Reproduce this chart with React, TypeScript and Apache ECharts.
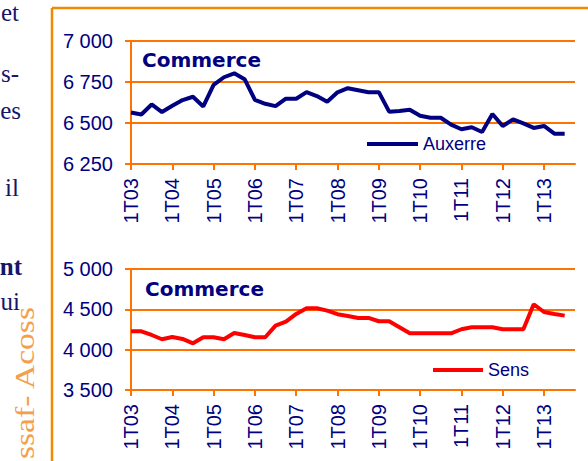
import React, { useEffect, useRef } from "react";
import * as echarts from "echarts";

const categories = [
  "1T03", "2T03", "3T03", "4T03", "1T04", "2T04", "3T04", "4T04",
  "1T05", "2T05", "3T05", "4T05", "1T06", "2T06", "3T06", "4T06",
  "1T07", "2T07", "3T07", "4T07", "1T08", "2T08", "3T08", "4T08",
  "1T09", "2T09", "3T09", "4T09", "1T10", "2T10", "3T10", "4T10",
  "1T11", "2T11", "3T11", "4T11", "1T12", "2T12", "3T12", "4T12",
  "1T13", "2T13", "3T13", "4T13",
];

const auxerre = [
  6564, 6552, 6613, 6567, 6605, 6640, 6660, 6601, 6733, 6779, 6803, 6767,
  6641, 6617, 6603, 6648, 6648, 6688, 6664, 6629, 6687, 6712, 6700, 6688,
  6688, 6569, 6573, 6581, 6544, 6532, 6532, 6490, 6462, 6474, 6445, 6555,
  6482, 6522, 6498, 6470, 6482, 6435, 6435, null,
];

const sens = [
  4228, 4228, 4182, 4129, 4157, 4133, 4079, 4154, 4154, 4129, 4207, 4182,
  4154, 4154, 4298, 4347, 4443, 4513, 4513, 4484, 4440, 4418, 4393, 4393,
  4352, 4352, 4278, 4203, 4203, 4203, 4203, 4203, 4253, 4278, 4278, 4278,
  4253, 4253, 4253, 4563, 4467, 4443, 4422, null,
];

const topAxis = { min: 6250, max: 7000, interval: 250 };
const bottomAxis = { min: 3500, max: 5000, interval: 500 };

const chartTitles = ["Commerce", "Commerce"];
const seriesNames = ["Auxerre", "Sens"];
const sideText = ["et", "s-", "es", "il", "nt", "ui"];
const sourceText = "ssaf- Acoss";

const NAVY = "#000080";
const RED = "#FF0000";
const ORANGE = "#FF7300";
const FRAME = "#F08A00";
const TEXT_NAVY = "#15156a";
const SOURCE_ORANGE = "#F4A04A";
const SANS = "Liberation Sans, Arial, sans-serif";
const SERIF = "Liberation Serif, Times New Roman, serif";

const fmt = (v: number) => String(v).replace(/\B(?=(\d{3})+(?!\d))/g, " ");

export default function App() {
  const ref = useRef<HTMLDivElement>(null);
  useEffect(() => {
    if (!ref.current) return;
    const chart = echarts.init(ref.current, undefined, { renderer: "svg" });
    const lineStyle = { color: ORANGE, width: 2 };
    const xAxis = [0, 1].map((i) => ({
      type: "category",
      gridIndex: i,
      data: categories,
      boundaryGap: false,
      axisLine: { show: true, lineStyle },
      axisTick: { show: true, interval: 3, length: 6, lineStyle },
      axisLabel: {
        interval: 3,
        rotate: 90,
        margin: 14,
        fontSize: 20,
        color: NAVY,
        fontFamily: SANS,
      },
      splitLine: { show: false },
    }));
    const yAxis = [topAxis, bottomAxis].map((a, i) => ({
      type: "value",
      gridIndex: i,
      min: a.min,
      max: a.max,
      interval: a.interval,
      axisLine: { show: true, lineStyle },
      axisTick: { show: true, length: 6, lineStyle },
      splitLine: { show: true, lineStyle },
      axisLabel: {
        margin: 18,
        fontSize: 20,
        color: NAVY,
        fontFamily: SANS,
        formatter: (v: number) => fmt(v),
      },
    }));
    const sideY = [12, 73, 110, 187, 266, 301];
    const sideX = [19, 19, 21, 19, 22, 20];
    const option = {
      animation: false,
      backgroundColor: "#ffffff",
      grid: [
        { left: 131, top: 41, width: 444, height: 123, outerBoundsMode: "none" },
        { left: 131, top: 269, width: 444, height: 121, outerBoundsMode: "none" },
      ],
      xAxis,
      yAxis,
      legend: [
        {
          data: [seriesNames[0]],
          left: 367,
          top: 135,
          padding: 0,
          icon: "rect",
          itemWidth: 51,
          itemHeight: 4,
          textStyle: { fontSize: 18, color: NAVY, fontFamily: SANS },
        },
        {
          data: [seriesNames[1]],
          left: 433,
          top: 361,
          padding: 0,
          icon: "rect",
          itemWidth: 50,
          itemHeight: 4,
          textStyle: { fontSize: 18, color: NAVY, fontFamily: SANS },
        },
      ],
      series: [
        {
          type: "line",
          name: seriesNames[0],
          xAxisIndex: 0,
          yAxisIndex: 0,
          data: auxerre,
          symbol: "none",
          lineStyle: { color: NAVY, width: 4 },
          itemStyle: { color: NAVY },
        },
        {
          type: "line",
          name: seriesNames[1],
          xAxisIndex: 1,
          yAxisIndex: 1,
          data: sens,
          symbol: "none",
          lineStyle: { color: RED, width: 4 },
          itemStyle: { color: RED },
        },
      ],
      graphic: [
        { type: "line", shape: { x1: 52, y1: 8, x2: 52, y2: 461 }, style: { stroke: FRAME, lineWidth: 2.5 } },
        { type: "line", shape: { x1: 52, y1: 8, x2: 588, y2: 8 }, style: { stroke: FRAME, lineWidth: 2.5 } },
        {
          type: "text",
          x: 142,
          y: 60,
          style: {
            text: chartTitles[0],
            fontSize: 20,
            fontWeight: "bold",
            fontFamily: "DejaVu Sans, sans-serif",
            fill: NAVY,
            verticalAlign: "middle",
            textVerticalAlign: "middle",
          },
        },
        {
          type: "text",
          x: 145,
          y: 289,
          style: {
            text: chartTitles[1],
            fontSize: 20,
            fontWeight: "bold",
            fontFamily: "DejaVu Sans, sans-serif",
            fill: NAVY,
            verticalAlign: "middle",
            textVerticalAlign: "middle",
          },
        },
        ...sideText.map((t, i) => ({
          type: "text",
          x: sideX[i],
          y: sideY[i],
          style: {
            text: t,
            fontSize: 25,
            fontWeight: t === "nt" ? "bold" : "normal",
            fontFamily: SERIF,
            fill: TEXT_NAVY,
            align: "right",
            textAlign: "right",
            verticalAlign: "middle",
            textVerticalAlign: "middle",
          },
        })),
        {
          type: "text",
          x: 24,
          y: 307,
          rotation: Math.PI / 2,
          scaleX: 1.2,
          style: {
            text: sourceText,
            fontSize: 28,
            fontFamily: SERIF,
            fill: SOURCE_ORANGE,
            align: "right",
            textAlign: "right",
            verticalAlign: "middle",
            textVerticalAlign: "middle",
          },
        },
      ],
    };
    chart.setOption(option as any);
    return () => chart.dispose();
  }, []);
  return (
    <div
      ref={ref}
      style={{ position: "absolute", left: 0, top: 0, width: 588, height: 461 }}
    />
  );
}
